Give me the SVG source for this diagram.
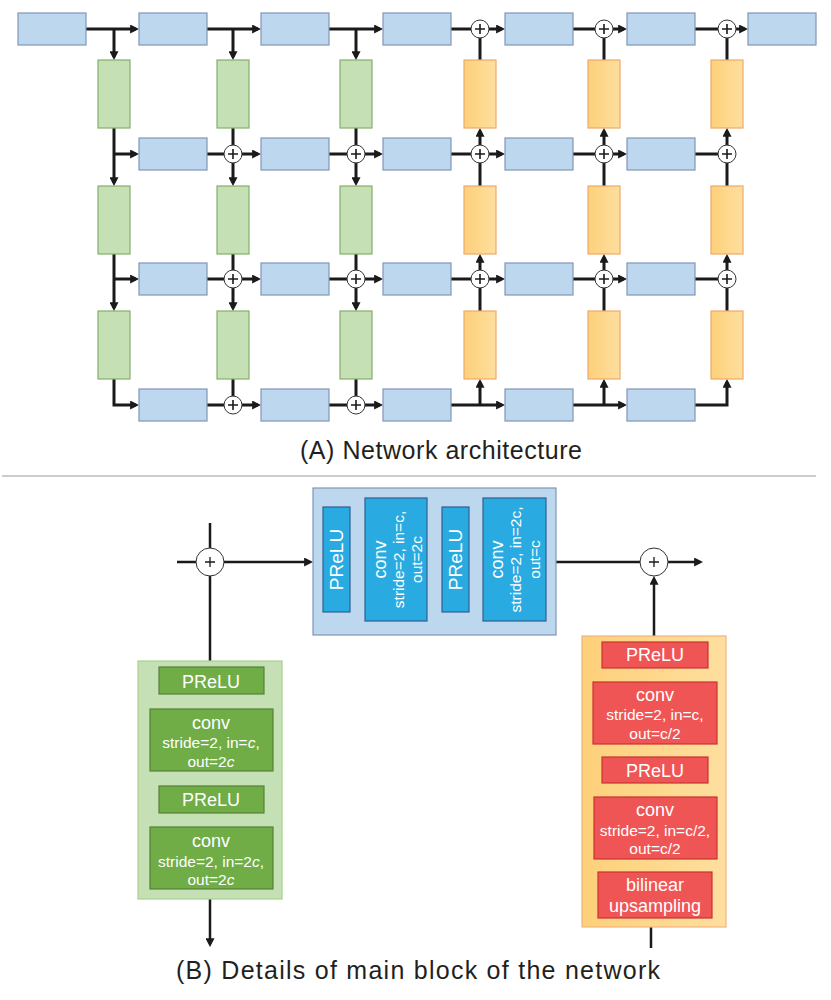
<svg xmlns="http://www.w3.org/2000/svg" width="831" height="1000" viewBox="0 0 831 1000">
<style>
.bl{fill:#BDD7EE;stroke:#8096B8;stroke-width:1.2}
.gr{fill:#C5E0B4;stroke:#86AE6C;stroke-width:1.2}
.or{fill:url(#og);stroke:#EFA86A;stroke-width:1.2}
.c{fill:none;stroke:#1a1a1a;stroke-width:3}
.a{marker-end:url(#ah)}
.b{fill:none;stroke:#1a1a1a;stroke-width:2.5}
.ab{marker-end:url(#ah2)}
.pl{fill:#fff;stroke:#333;stroke-width:1}
.px{stroke:#1a1a1a;stroke-width:1.6;fill:none}
.ib{fill:#29ABE2;stroke:#2F5F8F;stroke-width:1.2}
.ig{fill:#70AD47;stroke:#548235;stroke-width:1.2}
.ir{fill:#EF5555;stroke:#C83232;stroke-width:1.2}
.t{font-family:"Liberation Sans",Arial,sans-serif;fill:#fff;text-anchor:middle}
.big{font-size:18px}
.sm{font-size:15.5px}
.ttl{font-family:"Liberation Sans",Arial,sans-serif;font-size:25px;fill:#231F20;text-anchor:middle}
</style>
<defs>
<linearGradient id="og" x1="0" y1="0" x2="1" y2="0">
<stop offset="0" stop-color="#FDD07A"/><stop offset="1" stop-color="#FEDF9F"/>
</linearGradient>
<marker id="ah" viewBox="0 0 10 10" markerUnits="userSpaceOnUse" markerWidth="9" markerHeight="9" refX="6.5" refY="5" orient="auto">
<path d="M0,0 L10,5 L0,10 z" fill="#1a1a1a"/>
</marker>
<marker id="ah2" viewBox="0 0 10 10" markerUnits="userSpaceOnUse" markerWidth="9" markerHeight="9" refX="6.5" refY="5" orient="auto">
<path d="M0,0 L10,5 L0,10 z" fill="#1a1a1a"/>
</marker>
</defs>
<rect width="831" height="1000" fill="#fff"/>

<g id="connectors">
<path class="c a" d="M86,29 H136"/><path class="c a" d="M114,29 V57"/>
<path class="c a" d="M207,29 H258"/><path class="c a" d="M233,29 V57"/>
<path class="c a" d="M329,29 H380"/><path class="c a" d="M356,29 V57"/>
<path class="c a" d="M451,29 H502"/><path class="c" d="M480,60 V29"/>
<path class="c a" d="M573,29 H624"/><path class="c" d="M604,60 V29"/>
<path class="c a" d="M695,29 H745"/><path class="c" d="M727,60 V29"/>

<path class="c a" d="M114,128 V183"/><path class="c a" d="M114,154 H136"/>
<path class="c a" d="M207,154 H258"/><path class="c a" d="M233,128 V183"/>
<path class="c a" d="M329,154 H380"/><path class="c a" d="M356,128 V183"/>
<path class="c a" d="M451,154 H502"/><path class="c a" d="M480,186 V131"/>
<path class="c a" d="M573,154 H624"/><path class="c a" d="M604,186 V131"/>
<path class="c" d="M695,154 H727"/><path class="c a" d="M727,186 V131"/>

<path class="c a" d="M114,254 V308"/><path class="c a" d="M114,279 H136"/>
<path class="c a" d="M207,279 H258"/><path class="c a" d="M233,254 V308"/>
<path class="c a" d="M329,279 H380"/><path class="c a" d="M356,254 V308"/>
<path class="c a" d="M451,279 H502"/><path class="c a" d="M480,311 V257"/>
<path class="c a" d="M573,279 H624"/><path class="c a" d="M604,311 V257"/>
<path class="c" d="M695,279 H727"/><path class="c a" d="M727,311 V257"/>

<path class="c a" d="M114,379 V405 H136"/>
<path class="c a" d="M207,405 H258"/><path class="c" d="M233,379 V405"/>
<path class="c a" d="M329,405 H380"/><path class="c" d="M356,379 V405"/>
<path class="c a" d="M451,405 H502"/><path class="c a" d="M480,405 V382"/>
<path class="c a" d="M573,405 H624"/><path class="c a" d="M604,405 V382"/>
<path class="c a" d="M695,405 H727 V382"/>

<path class="b ab" d="M177,562 H310"/>
<path class="b" d="M210,523 V661"/>
<path class="b ab" d="M210,899 V944"/>
<path class="b ab" d="M556,562 H700"/>
<path class="b ab" d="M654,636 V579"/>
<path class="b" d="M651,927 V948"/>
</g>

<g id="r1c1"><rect class="bl" x="18" y="13" width="68" height="32"/></g>
<g id="r1c2"><rect class="bl" x="139" y="13" width="68" height="32"/></g>
<g id="r1c3"><rect class="bl" x="261" y="13" width="68" height="32"/></g>
<g id="r1c4"><rect class="bl" x="383" y="13" width="68" height="32"/></g>
<g id="r1c5"><rect class="bl" x="505" y="13" width="68" height="32"/></g>
<g id="r1c6"><rect class="bl" x="627" y="13" width="68" height="32"/></g>
<g id="r1c7"><rect class="bl" x="748" y="13" width="68" height="32"/></g>

<g id="r2c2"><rect class="bl" x="139" y="138" width="68" height="32"/></g>
<g id="r2c3"><rect class="bl" x="261" y="138" width="68" height="32"/></g>
<g id="r2c4"><rect class="bl" x="383" y="138" width="68" height="32"/></g>
<g id="r2c5"><rect class="bl" x="505" y="138" width="68" height="32"/></g>
<g id="r2c6"><rect class="bl" x="627" y="138" width="68" height="32"/></g>

<g id="r3c2"><rect class="bl" x="139" y="263" width="68" height="32"/></g>
<g id="r3c3"><rect class="bl" x="261" y="263" width="68" height="32"/></g>
<g id="r3c4"><rect class="bl" x="383" y="263" width="68" height="32"/></g>
<g id="r3c5"><rect class="bl" x="505" y="263" width="68" height="32"/></g>
<g id="r3c6"><rect class="bl" x="627" y="263" width="68" height="32"/></g>

<g id="r4c2"><rect class="bl" x="139" y="389" width="68" height="32"/></g>
<g id="r4c3"><rect class="bl" x="261" y="389" width="68" height="32"/></g>
<g id="r4c4"><rect class="bl" x="383" y="389" width="68" height="32"/></g>
<g id="r4c5"><rect class="bl" x="505" y="389" width="68" height="32"/></g>
<g id="r4c6"><rect class="bl" x="627" y="389" width="68" height="32"/></g>

<g id="g1a"><rect class="gr" x="98" y="60" width="32" height="68"/></g>
<g id="g2a"><rect class="gr" x="217" y="60" width="32" height="68"/></g>
<g id="g3a"><rect class="gr" x="340" y="60" width="32" height="68"/></g>
<g id="o1a"><rect class="or" x="464" y="60" width="32" height="68"/></g>
<g id="o2a"><rect class="or" x="588" y="60" width="32" height="68"/></g>
<g id="o3a"><rect class="or" x="711" y="60" width="32" height="68"/></g>

<g id="g1b"><rect class="gr" x="98" y="186" width="32" height="68"/></g>
<g id="g2b"><rect class="gr" x="217" y="186" width="32" height="68"/></g>
<g id="g3b"><rect class="gr" x="340" y="186" width="32" height="68"/></g>
<g id="o1b"><rect class="or" x="464" y="186" width="32" height="68"/></g>
<g id="o2b"><rect class="or" x="588" y="186" width="32" height="68"/></g>
<g id="o3b"><rect class="or" x="711" y="186" width="32" height="68"/></g>

<g id="g1c"><rect class="gr" x="98" y="311" width="32" height="68"/></g>
<g id="g2c"><rect class="gr" x="217" y="311" width="32" height="68"/></g>
<g id="g3c"><rect class="gr" x="340" y="311" width="32" height="68"/></g>
<g id="o1c"><rect class="or" x="464" y="311" width="32" height="68"/></g>
<g id="o2c"><rect class="or" x="588" y="311" width="32" height="68"/></g>
<g id="o3c"><rect class="or" x="711" y="311" width="32" height="68"/></g>

<g id="p1_480"><circle class="pl" cx="480" cy="29" r="9"/><path class="px" d="M475,29 h10 M480,24 v10"/></g>
<g id="p1_604"><circle class="pl" cx="604" cy="29" r="9"/><path class="px" d="M599,29 h10 M604,24 v10"/></g>
<g id="p1_727"><circle class="pl" cx="727" cy="29" r="9"/><path class="px" d="M722,29 h10 M727,24 v10"/></g>

<g id="p2_233"><circle class="pl" cx="233" cy="154" r="9"/><path class="px" d="M228,154 h10 M233,149 v10"/></g>
<g id="p2_356"><circle class="pl" cx="356" cy="154" r="9"/><path class="px" d="M351,154 h10 M356,149 v10"/></g>
<g id="p2_480"><circle class="pl" cx="480" cy="154" r="9"/><path class="px" d="M475,154 h10 M480,149 v10"/></g>
<g id="p2_604"><circle class="pl" cx="604" cy="154" r="9"/><path class="px" d="M599,154 h10 M604,149 v10"/></g>
<g id="p2_727"><circle class="pl" cx="727" cy="154" r="9"/><path class="px" d="M722,154 h10 M727,149 v10"/></g>

<g id="p3_233"><circle class="pl" cx="233" cy="279" r="9"/><path class="px" d="M228,279 h10 M233,274 v10"/></g>
<g id="p3_356"><circle class="pl" cx="356" cy="279" r="9"/><path class="px" d="M351,279 h10 M356,274 v10"/></g>
<g id="p3_480"><circle class="pl" cx="480" cy="279" r="9"/><path class="px" d="M475,279 h10 M480,274 v10"/></g>
<g id="p3_604"><circle class="pl" cx="604" cy="279" r="9"/><path class="px" d="M599,279 h10 M604,274 v10"/></g>
<g id="p3_727"><circle class="pl" cx="727" cy="279" r="9"/><path class="px" d="M722,279 h10 M727,274 v10"/></g>

<g id="p4_233"><circle class="pl" cx="233" cy="405" r="9"/><path class="px" d="M228,405 h10 M233,400 v10"/></g>
<g id="p4_356"><circle class="pl" cx="356" cy="405" r="9"/><path class="px" d="M351,405 h10 M356,400 v10"/></g>

<text class="ttl" x="441" y="459" textLength="282" lengthAdjust="spacing">(A) Network architecture</text>
<line x1="2" y1="476" x2="816" y2="476" stroke="#CCCCCC" stroke-width="2"/>

<g id="mainblock">
<rect class="bl" x="313" y="488" width="243" height="147"/>
<rect class="ib" x="323" y="507" width="27" height="105"/>
<text class="t" font-size="19" transform="translate(343,559.5) rotate(-90)">PReLU</text>
<rect class="ib" x="365" y="498" width="62" height="123"/>
<text class="t big" transform="translate(386,559.5) rotate(-90)">conv</text>
<text class="t sm" transform="translate(404,559.5) rotate(-90)">stride=2, in=c,</text>
<text class="t sm" transform="translate(422,559.5) rotate(-90)">out=2c</text>
<rect class="ib" x="442" y="507" width="27" height="105"/>
<text class="t" font-size="19" transform="translate(462,559.5) rotate(-90)">PReLU</text>
<rect class="ib" x="483" y="498" width="63" height="123"/>
<text class="t big" transform="translate(503,559.5) rotate(-90)">conv</text>
<text class="t sm" transform="translate(521,559.5) rotate(-90)">stride=2, in=2c,</text>
<text class="t sm" transform="translate(540,559.5) rotate(-90)">out=c</text>
</g>

<g id="plusL"><circle class="pl" cx="210" cy="562" r="14"/><path class="px" style="stroke-width:1.3" d="M205,562 h10 M210,557 v10"/></g>
<g id="plusR"><circle class="pl" cx="654" cy="562" r="14"/><path class="px" style="stroke-width:1.3" d="M649,562 h10 M654,557 v10"/></g>

<g id="downblock">
<rect class="gr" x="138" y="661" width="144" height="238" style="stroke:#A9D18E"/>
<rect class="ig" x="159" y="667" width="105" height="27"/>
<text class="t big" x="211" y="688">PReLU</text>
<rect class="ig" x="150" y="709" width="123" height="62"/>
<text class="t big" x="211" y="729">conv</text>
<text class="t sm" x="211" y="748">stride=2, in=<tspan font-style="italic">c</tspan>,</text>
<text class="t sm" x="211" y="767">out=2<tspan font-style="italic">c</tspan></text>
<rect class="ig" x="159" y="786" width="105" height="27"/>
<text class="t big" x="211" y="806">PReLU</text>
<rect class="ig" x="150" y="827" width="123" height="62"/>
<text class="t big" x="211" y="847">conv</text>
<text class="t sm" x="211" y="867">stride=2, in=2<tspan font-style="italic">c</tspan>,</text>
<text class="t sm" x="211" y="885">out=2<tspan font-style="italic">c</tspan></text>
</g>

<g id="upblock">
<rect class="or" x="582" y="636" width="144" height="291" style="stroke:#F2B27C"/>
<rect class="ir" x="602" y="642" width="106" height="26"/>
<text class="t big" x="655" y="661">PReLU</text>
<rect class="ir" x="593" y="682" width="124" height="62"/>
<text class="t big" x="655" y="701">conv</text>
<text class="t sm" x="655" y="720">stride=2, in=c,</text>
<text class="t sm" x="655" y="739">out=c/2</text>
<rect class="ir" x="602" y="757" width="106" height="26"/>
<text class="t big" x="655" y="777">PReLU</text>
<rect class="ir" x="594" y="797" width="123" height="62"/>
<text class="t big" x="655" y="816">conv</text>
<text class="t sm" x="655" y="836">stride=2, in=c/2,</text>
<text class="t sm" x="655" y="854">out=c/2</text>
<rect class="ir" x="598" y="872" width="114" height="46"/>
<text class="t big" x="655" y="891">bilinear</text>
<text class="t big" x="655" y="912">upsampling</text>
</g>

<text class="ttl" x="418" y="979" textLength="484" lengthAdjust="spacing">(B) Details of main block of the network</text>
</svg>
